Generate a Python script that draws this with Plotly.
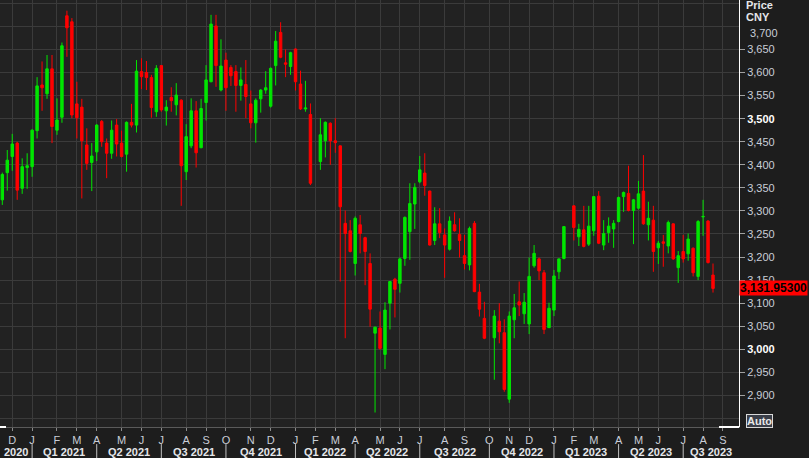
import plotly.graph_objects as go
import pandas as pd

# ---------------- data (weekly OHLC, CNY) ----------------
open_ = [3324, 3383, 3418, 3447, 3349, 3394, 3396, 3474, 3573, 3554,
         3608, 3475, 3503, 3723, 3710, 3532, 3525, 3443, 3405, 3428,
         3494, 3447, 3425, 3486, 3447, 3423, 3492, 3486, 3602, 3600,
         3589, 3515, 3615, 3517, 3546, 3530, 3540, 3385, 3441, 3517,
         3437, 3535, 3580, 3701, 3562, 3627, 3611, 3602, 3572, 3574,
         3532, 3491, 3543, 3562, 3527, 3615, 3687, 3621, 3613, 3651,
         3575, 3521, 3509,
         3407, 3452, 3490, 3452, 3441, 3273, 3257, 3186, 3270, 3242,
         3186, 3035, 3046, 2989, 3100, 3152, 3143, 3197, 3255, 3315,
         3363, 3382, 3343, 3236, 3272, 3248, 3217, 3270, 3249, 3203,
         3183, 3273, 3124, 3067,
         3025, 3061, 3036, 2892, 3064, 3103, 3077, 3055, 3181, 3196,
         3166, 3047, 3085, 3168, 3197,
         3311, 3244, 3259, 3228, 3257, 3332, 3226, 3253, 3261, 3277,
         3331, 3338, 3301, 3306, 3343, 3270, 3280, 3220, 3233, 3224,
         3272, 3177, 3212, 3207, 3219, 3158, 3287, 3278, 3161]
high = [3383, 3432, 3467, 3450, 3414, 3425, 3477, 3590, 3624, 3638,
        3638, 3544, 3665, 3734, 3718, 3580, 3543, 3479, 3447, 3488,
        3497, 3457, 3496, 3499, 3474, 3494, 3532, 3627, 3631, 3625,
        3595, 3616, 3616, 3540, 3568, 3577, 3542, 3488, 3544, 3538,
        3543, 3616, 3725, 3725, 3672, 3643, 3616, 3616, 3611, 3627,
        3561, 3544, 3564, 3603, 3611, 3690, 3709, 3650, 3645, 3652,
        3604, 3582, 3533,
        3501, 3494, 3492, 3501, 3442, 3301, 3280, 3288, 3291, 3244,
        3208, 3049, 3082, 3102, 3148, 3155, 3199, 3288, 3360, 3360,
        3419, 3425, 3344, 3308, 3306, 3262, 3288, 3297, 3284, 3248,
        3266, 3278, 3142, 3103,
        3085, 3100, 3065, 3082, 3120, 3147, 3122, 3199, 3226, 3199,
        3172, 3101, 3172, 3197, 3267,
        3312, 3272, 3311, 3311, 3332, 3343, 3280, 3286, 3280, 3331,
        3342, 3398, 3326, 3365, 3421, 3320, 3311, 3235, 3248, 3279,
        3273, 3213, 3248, 3251, 3221, 3280, 3324, 3280, 3186]
low = [3313, 3344, 3387, 3324, 3337, 3348, 3374, 3457, 3517, 3543,
       3447, 3465, 3491, 3634, 3501, 3457, 3327, 3389, 3343, 3408,
       3439, 3371, 3413, 3418, 3416, 3385, 3481, 3470, 3564, 3562,
       3502, 3504, 3515, 3485, 3515, 3507, 3311, 3367, 3436, 3394,
       3436, 3496, 3579, 3569, 3559, 3517, 3571, 3515, 3539, 3501,
       3479, 3448, 3513, 3554, 3524, 3572, 3631, 3590, 3595, 3561,
       3519, 3515, 3356,
       3389, 3416, 3400, 3426, 3147, 3024, 3210, 3160, 3208, 3139,
       3049, 2863, 2999, 2957, 3043, 3069, 3123, 3181, 3194, 3261,
       3360, 3333, 3225, 3226, 3241, 3155, 3214, 3255, 3199, 3173,
       3171, 3124, 3071, 3022,
       2934, 3013, 2908, 2884, 3024, 3072, 3055, 3033, 3177, 3150,
       3033, 3046, 3072, 3152, 3195,
       3236, 3224, 3221, 3224, 3246, 3228, 3215, 3231, 3220, 3275,
       3298, 3299, 3228, 3303, 3270, 3236, 3168, 3185, 3179, 3208,
       3194, 3144, 3188, 3192, 3158, 3150, 3246, 3186, 3123]
close = [3379, 3410, 3445, 3345, 3396, 3398, 3475, 3571, 3567, 3608,
         3483, 3497, 3658, 3697, 3508, 3502, 3452, 3403, 3419, 3486,
         3450, 3425, 3475, 3445, 3418, 3492, 3486, 3603, 3591, 3589,
         3524, 3609, 3519, 3525, 3539, 3551, 3398, 3461, 3517, 3426,
         3522, 3584, 3705, 3615, 3614, 3567, 3593, 3572, 3584, 3548,
         3491, 3540, 3562, 3567, 3609, 3668, 3633, 3618, 3643, 3580,
         3521, 3523, 3360,
         3465, 3492, 3452, 3448, 3309, 3251, 3212, 3284, 3251, 3212,
         3087, 3048, 3002, 3085, 3147, 3130, 3196, 3286, 3316, 3351,
         3389, 3355, 3226, 3272, 3253, 3226, 3278, 3257, 3236, 3186,
         3262, 3125, 3087, 3024,
         3072, 3038, 2913, 3072, 3090, 3096, 3102, 3158, 3208, 3170,
         3043, 3089, 3159, 3196, 3266,
         3264, 3260, 3223, 3267, 3331, 3230, 3251, 3267, 3273, 3329,
         3340, 3301, 3324, 3337, 3272, 3284, 3212, 3230, 3230, 3275,
         3196, 3203, 3196, 3239, 3166, 3277, 3288, 3188, 3131.953]

first_week = "2020-11-20"
last_week = "2023-08-18"
holiday_weeks = ["2022-02-04", "2022-10-07", "2023-01-27"]  # no trading

quarter_labels = ["2020", "Q1 2021", "Q2 2021", "Q3 2021", "Q4 2021",
                  "Q1 2022", "Q2 2022", "Q3 2022", "Q4 2022",
                  "Q1 2023", "Q2 2023", "Q3 2023"]
price_ticks = list(range(2900, 3700, 50))
last_price_text = "3,131.95300"

# ---------------- build ----------------
all_weeks = pd.date_range(first_week, last_week, freq="W-FRI")
dates = [d for d in all_weeks if d.strftime("%Y-%m-%d") not in holiday_weeks]
assert len(dates) == len(open_) == len(high) == len(low) == len(close)

d0 = pd.Timestamp(first_week)
wk = pd.Timedelta(days=7)
x_start = d0 - wk * 0.463
x_end = d0 + wk * 148.23

# month ticks on first calendar Friday of each month
fridays = pd.date_range(first_week, "2023-09-30", freq="W-FRI")
month_ticks = []
seen = set()
for f in fridays:
    key = (f.year, f.month)
    if key not in seen:
        seen.add(key)
        if f > d0 + wk * 1.5:
            month_ticks.append(f)
month_text = [m.strftime("%b")[0] for m in month_ticks]
quarter_starts = [m for m in month_ticks if m.month in (1, 4, 7, 10)]

GREEN = "#00e600"
RED = "#ff0000"
GRID = "#3b3b3b"
LBL = "#c9ced8"

fig = go.Figure(go.Candlestick(
    x=dates, open=open_, high=high, low=low, close=close,
    increasing=dict(line=dict(color=GREEN, width=1), fillcolor=GREEN),
    decreasing=dict(line=dict(color=RED, width=1), fillcolor=RED),
    whiskerwidth=0, hoverinfo="x+y"))

ytext = []
for v in price_ticks:
    s = f"{v:,}"
    if v % 500 == 0:
        s = f"<b><span style='color:#ffffff'>{s}</span></b>"
    ytext.append(s)

annotations = []
# quarter labels
bounds = [x_start] + quarter_starts + [x_end]
for i, lab in enumerate(quarter_labels):
    a, b = bounds[i], bounds[i + 1]
    mid = a + (b - a) / 2
    annotations.append(dict(x=mid, xref="x", y=-0.0585, yref="paper",
                            text=f"<b>{lab}</b>", showarrow=False,
                            font=dict(size=11, color="#e4e6ea"),
                            xanchor="center", yanchor="middle"))
# right-axis header
annotations.append(dict(x=1, xref="paper", xshift=5, y=1, yref="paper", yshift=3,
                        text="<b>Price</b>", showarrow=False, xanchor="left",
                        yanchor="top", font=dict(size=11, color="#e4e6ea")))
annotations.append(dict(x=1, xref="paper", xshift=5, y=1 - 17 / 427, yref="paper",
                        text="<b>CNY</b>", showarrow=False, xanchor="left",
                        yanchor="middle", font=dict(size=11, color="#e4e6ea")))
annotations.append(dict(x=1, xref="paper", xshift=9, y=1 - 33 / 427, yref="paper",
                        text="3,700", showarrow=False, xanchor="left",
                        yanchor="middle", font=dict(size=11, color=LBL)))
# last price tag
annotations.append(dict(x=1, xref="paper", xshift=0, y=close[-1], yref="y",
                        text=f"<b>{last_price_text}</b>", showarrow=False,
                        xanchor="left", yanchor="middle", bgcolor=RED,
                        borderpad=0, font=dict(size=12, color="#000000")))
# Auto button
annotations.append(dict(x=1, xref="paper", xshift=7, y=6 / 427, yref="paper",
                        text="<b>Auto</b>", showarrow=False, xanchor="left",
                        yanchor="middle", bgcolor="#3a3e48", bordercolor="#d8d8d8",
                        borderwidth=1, borderpad=0,
                        font=dict(size=11, color="#e8e8e8")))

shapes = []
for q in quarter_starts:
    shapes.append(dict(type="line", xref="x", yref="paper", x0=q, x1=q,
                       y0=-0.040, y1=-0.073, line=dict(color="#c0c0c0", width=1)))
shapes.append(dict(type="line", xref="paper", yref="paper", x0=0, x1=6 / 739,
                   y0=0, y1=0, line=dict(color="#ffffff", width=2)))
shapes.append(dict(type="line", xref="paper", yref="paper", x0=719 / 739, x1=1,
                   y0=0, y1=0, line=dict(color="#ffffff", width=2)))

fig.update_layout(
    width=809, height=458,
    margin=dict(l=0, r=70, t=0, b=31),
    paper_bgcolor="#1d1d1d", plot_bgcolor="#222222",
    showlegend=False,
    font=dict(family="Liberation Sans, Arial, sans-serif", size=11, color=LBL),
    boxgap=0.3,
    annotations=annotations, shapes=shapes,
    xaxis=dict(type="date", range=[x_start, x_end], rangeslider=dict(visible=False),
               tickmode="array", tickvals=month_ticks, ticktext=month_text,
               showgrid=True, gridcolor=GRID, gridwidth=1,
               ticks="outside", ticklen=3, tickcolor="#8a8a8a",
               showline=True, linecolor="#5a5a5a", linewidth=1,
               zeroline=False, tickfont=dict(size=11, color=LBL),
               fixedrange=True),
    yaxis=dict(side="right", range=[2831.6, 3757.2],
               tickmode="array", tickvals=price_ticks, ticktext=ytext,
               showgrid=True, gridcolor=GRID, gridwidth=1,
               minor=dict(tick0=2850, dtick=50, showgrid=True, gridcolor=GRID, ticks=""),
               ticks="outside", ticklen=5, tickcolor="#a0a0a0",
               showline=True, linecolor="#ffffff", linewidth=1,
               zeroline=False, tickfont=dict(size=11, color=LBL),
               fixedrange=True),
)

fig.write_html("out.html", config={"displayModeBar": False},
               post_script="document.body.style.margin='0';document.body.style.background='#1d1d1d';")
